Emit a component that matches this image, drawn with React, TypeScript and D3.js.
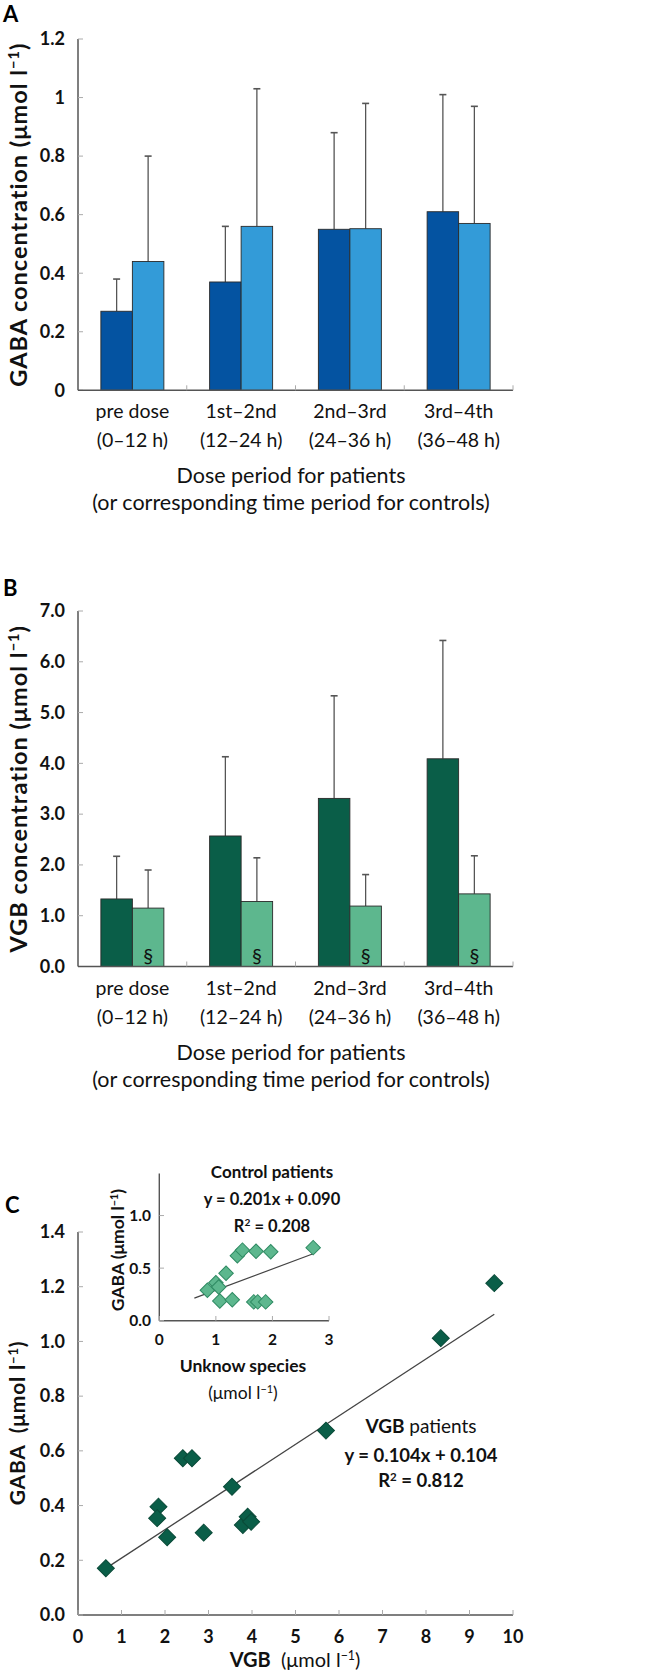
import React from "react";
import * as d3 from "d3";

const categories = ["pre dose", "1st–2nd", "2nd–3rd", "3rd–4th"];
const categoryHours = ["(0–12 h)", "(12–24 h)", "(24–36 h)", "(36–48 h)"];

const gabaPatients = [0.27, 0.37, 0.55, 0.61];
const gabaPatientsSD = [0.11, 0.19, 0.33, 0.40];
const gabaControls = [0.44, 0.56, 0.552, 0.57];
const gabaControlsSD = [0.36, 0.47, 0.428, 0.40];

const vgbPatients = [1.33, 2.57, 3.31, 4.09];
const vgbPatientsSD = [0.84, 1.56, 2.02, 2.33];
const vgbControls = [1.15, 1.28, 1.19, 1.43];
const vgbControlsSD = [0.75, 0.86, 0.62, 0.75];

const gabaTicksA = [0, 0.2, 0.4, 0.6, 0.8, 1, 1.2];
const vgbTicksB = [0, 1, 2, 3, 4, 5, 6, 7];

const vgbX = [0.64, 1.85, 1.82, 2.05, 2.41, 2.62, 2.89, 3.54, 3.79, 3.9, 3.98, 5.7, 8.34, 9.57];
const gabaY = [0.171, 0.396, 0.354, 0.284, 0.573, 0.573, 0.301, 0.469, 0.329, 0.359, 0.341, 0.674, 1.012, 1.213];

const unkX = [0.85, 1.0, 1.05, 1.07, 1.18, 1.29, 1.38, 1.47, 1.71, 1.67, 1.74, 1.88, 1.97, 2.72];
const unkY = [0.289, 0.361, 0.32, 0.188, 0.451, 0.2, 0.617, 0.671, 0.661, 0.179, 0.179, 0.179, 0.655, 0.695];

const mainTicksX = [0, 1, 2, 3, 4, 5, 6, 7, 8, 9, 10];
const mainTicksY = [0, 0.2, 0.4, 0.6, 0.8, 1.0, 1.2, 1.4];
const insetTicksX = [0, 1, 2, 3];
const insetTicksY = [0, 0.5, 1.0];

const FONT = "Lato, 'Open Sans', sans-serif";
const AXIS = "#555";
const TICK = "#aaa";

const DARK_BLUE = "#0453a1";
const LIGHT_BLUE = "#339bd8";
const DARK_GREEN = "#0a5e48";
const LIGHT_GREEN = "#5db78e";

function Unit({ pre }: { pre: string }) {
  return (
    <>
      {pre}(μmol l
      <tspan fontSize="0.62em" dy="-0.55em">−1</tspan>
      <tspan dy="0.34em">)</tspan>
    </>
  );
}

function BarPanel(props: {
  top: number;
  letter: string;
  yMax: number;
  ticks: number[];
  fmt: (v: number) => string;
  a: number[];
  aSD: number[];
  b: number[];
  bSD: number[];
  ca: string;
  cb: string;
  title: string;
  section?: boolean;
  y0: number;
  y1: number;
}) {
  const { a, aSD, b, bSD, ca, cb, y0, y1 } = props;
  const x = d3.scaleBand<string>().domain(categories).range([78, 513]).paddingInner(0).paddingOuter(0);
  const y = d3.scaleLinear().domain([0, props.yMax]).range([y0, y1]);
  const bw = 31.5;
  const cap = 3.5;
  const bars: JSX.Element[] = [];
  categories.forEach((c, i) => {
    const cx = (x(c) as number) + x.bandwidth() / 2;
    const series = [
      { v: a[i], sd: aSD[i], col: ca, x0: cx - bw },
      { v: b[i], sd: bSD[i], col: cb, x0: cx },
    ];
    series.forEach((s, j) => {
      const mid = s.x0 + bw / 2;
      bars.push(
        <g key={`${i}-${j}`}>
          <line x1={mid} x2={mid} y1={y(s.v)} y2={y(s.v + s.sd)} stroke="#555" strokeWidth={1.3} />
          <line x1={mid - cap} x2={mid + cap} y1={y(s.v + s.sd)} y2={y(s.v + s.sd)} stroke="#555" strokeWidth={1.6} />
          <rect x={s.x0} y={y(s.v)} width={bw} height={y0 - y(s.v)} fill={s.col} stroke="#2a2a2a" strokeWidth={0.9} />
          {props.section && j === 1 ? (
            <text x={mid} y={y0 - 4} textAnchor="middle" fontSize={20} fontFamily={FONT} fill="#111">§</text>
          ) : null}
        </g>
      );
    });
  });
  return (
    <g>
      <text x={3} y={props.top} fontSize={22} fontWeight="bold" fontFamily={FONT}>{props.letter}</text>
      <line x1={78} x2={78} y1={y0} y2={y1} stroke={AXIS} strokeWidth={1.5} />
      {props.ticks.map((t) => (
        <g key={t}>
          <line x1={78} x2={83} y1={y(t)} y2={y(t)} stroke={TICK} strokeWidth={1} />
          <text x={65} y={y(t) + 6.3} textAnchor="end" fontSize={18} fontWeight="bold" fontFamily={FONT} fill="#111">
            {props.fmt(t)}
          </text>
        </g>
      ))}
      {bars}
      <line x1={78} x2={513} y1={y0} y2={y0} stroke={AXIS} strokeWidth={1.5} />
      {categories.map((c, i) => (
        <g key={c}>
          <line x1={(x(c) as number) + x.bandwidth()} x2={(x(c) as number) + x.bandwidth()} y1={y0} y2={y0 - 5} stroke={TICK} strokeWidth={1} />
          <text x={(x(c) as number) + x.bandwidth() / 2} y={y0 + 28} textAnchor="middle" fontSize={19.5} fontFamily={FONT} fill="#111">{c}</text>
          <text x={(x(c) as number) + x.bandwidth() / 2} y={y0 + 57} textAnchor="middle" fontSize={19.5} fontFamily={FONT} fill="#111">{categoryHours[i]}</text>
        </g>
      ))}
      <text x={291} y={y0 + 93} textAnchor="middle" fontSize={21.5} fontFamily={FONT} fill="#111">Dose period for patients</text>
      <text x={291} y={y0 + 120} textAnchor="middle" fontSize={21.5} fontFamily={FONT} fill="#111">(or corresponding time period for controls)</text>
      <text transform={`translate(27,${(y0 + y1) / 2}) rotate(-90)`} textAnchor="middle" fontSize={23.5} letterSpacing={1} fontWeight="bold" fontFamily={FONT} fill="#111">
        <Unit pre={props.title} />
      </text>
    </g>
  );
}

function Diamond({ cx, cy, d, fill, stroke }: { cx: number; cy: number; d: number; fill: string; stroke: string }) {
  const s = d / Math.SQRT2;
  const path = d3.symbol().type(d3.symbolSquare).size(s * s)() as string;
  return <path d={path} transform={`translate(${cx},${cy}) rotate(45)`} fill={fill} stroke={stroke} strokeWidth={1} />;
}

function ScatterPanel() {
  const x = d3.scaleLinear().domain([0, 10]).range([78, 513]);
  const y = d3.scaleLinear().domain([0, 1.4]).range([1615, 1232]);
  const xi = d3.scaleLinear().domain([0, 3]).range([159.3, 329]);
  const yi = d3.scaleLinear().domain([0, 1.4]).range([1320.7, 1173.5]);
  const fitMain = (v: number) => 0.104 * v + 0.104;
  const fitInset = (v: number) => 0.201 * v + 0.09;
  const mainLine = d3.line<number>().x((v) => x(v)).y((v) => y(fitMain(v)));
  const insetLine = d3.line<number>().x((v) => xi(v)).y((v) => yi(fitInset(v)));
  return (
    <g>
      <text x={5} y={1213} fontSize={22} fontWeight="bold" fontFamily={FONT}>C</text>
      <line x1={78} x2={78} y1={1615} y2={1232} stroke={AXIS} strokeWidth={1.5} />
      <line x1={78} x2={513} y1={1615} y2={1615} stroke={AXIS} strokeWidth={1.5} />
      {mainTicksY.map((t) => (
        <g key={t}>
          <line x1={78} x2={83} y1={y(t)} y2={y(t)} stroke={TICK} />
          <text x={65} y={y(t) + 6.3} textAnchor="end" fontSize={18} fontWeight="bold" fontFamily={FONT} fill="#111">{t.toFixed(1)}</text>
        </g>
      ))}
      {mainTicksX.map((t) => (
        <g key={t}>
          <line x1={x(t)} x2={x(t)} y1={1615} y2={1610} stroke={TICK} />
          <text x={x(t)} y={1643} textAnchor="middle" fontSize={18} fontWeight="bold" fontFamily={FONT} fill="#111">{t}</text>
        </g>
      ))}
      <text x={295} y={1667} textAnchor="middle" fontSize={20} fontFamily={FONT} fill="#111">
        <tspan fontWeight="bold">VGB</tspan>
        <tspan>{"\u00a0\u00a0(μmol l"}</tspan>
        <tspan fontSize="0.62em" dy="-0.55em">−1</tspan>
        <tspan dy="0.34em">)</tspan>
      </text>
      <text transform={`translate(25,1423) rotate(-90)`} textAnchor="middle" fontSize={21} letterSpacing={0.8} fontWeight="bold" fontFamily={FONT} fill="#111">
        <Unit pre={"GABA\u00a0\u00a0"} />
      </text>
      <path d={mainLine([0.64, 9.57]) as string} stroke="#444" strokeWidth={1.3} fill="none" />
      {vgbX.map((v, i) => (
        <Diamond key={i} cx={x(v)} cy={y(gabaY[i])} d={17} fill={DARK_GREEN} stroke="#0a4a38" />
      ))}
      <text x={421} y={1433} textAnchor="middle" fontSize={19} fontFamily={FONT} fill="#111">
        <tspan fontWeight="bold">VGB</tspan> patients
      </text>
      <text x={421} y={1462} textAnchor="middle" fontSize={18.5} fontWeight="bold" fontFamily={FONT} fill="#111">y = 0.104x + 0.104</text>
      <text x={421} y={1487} textAnchor="middle" fontSize={18.5} fontWeight="bold" fontFamily={FONT} fill="#111">
        R<tspan fontSize="0.62em" dy="-0.55em">2</tspan><tspan dy="0.34em"> = 0.812</tspan>
      </text>

      {/* inset */}
      <line x1={159.3} x2={159.3} y1={1320.7} y2={1173.5} stroke={AXIS} strokeWidth={1.4} />
      <line x1={159.3} x2={329} y1={1320.7} y2={1320.7} stroke={AXIS} strokeWidth={1.4} />
      {insetTicksY.map((t) => (
        <g key={t}>
          <line x1={159.3} x2={164} y1={yi(t)} y2={yi(t)} stroke={TICK} />
          <text x={151} y={yi(t) + 5.5} textAnchor="end" fontSize={15.5} fontWeight="bold" fontFamily={FONT} fill="#111">{t.toFixed(1)}</text>
        </g>
      ))}
      {insetTicksX.map((t) => (
        <g key={t}>
          <line x1={xi(t)} x2={xi(t)} y1={1320.7} y2={1316} stroke={TICK} />
          <text x={xi(t)} y={1345} textAnchor="middle" fontSize={15.5} fontWeight="bold" fontFamily={FONT} fill="#111">{t}</text>
        </g>
      ))}
      <text x={243} y={1372} textAnchor="middle" fontSize={17.5} fontWeight="bold" fontFamily={FONT} fill="#111">Unknow species</text>
      <text x={243} y={1399} textAnchor="middle" fontSize={17.5} fontFamily={FONT} fill="#111">
        <Unit pre="" />
      </text>
      <text transform={`translate(124,1250) rotate(-90)`} textAnchor="middle" fontSize={17.5} fontWeight="bold" fontFamily={FONT} fill="#111">
        <Unit pre={"GABA "} />
      </text>
      <path d={insetLine([0.62, 2.72]) as string} stroke="#444" strokeWidth={1.2} fill="none" />
      {unkX.map((v, i) => (
        <Diamond key={i} cx={xi(v)} cy={yi(unkY[i])} d={14.5} fill={LIGHT_GREEN} stroke="#2e8a62" />
      ))}
      <text x={272} y={1178} textAnchor="middle" fontSize={17} fontWeight="bold" fontFamily={FONT} fill="#111">Control patients</text>
      <text x={272} y={1205} textAnchor="middle" fontSize={16.5} fontWeight="bold" fontFamily={FONT} fill="#111">y = 0.201x + 0.090</text>
      <text x={272} y={1232} textAnchor="middle" fontSize={16.5} fontWeight="bold" fontFamily={FONT} fill="#111">
        R<tspan fontSize="0.62em" dy="-0.55em">2</tspan><tspan dy="0.34em"> = 0.208</tspan>
      </text>
    </g>
  );
}

export default function App() {
  return (
    <svg width={666} height={1678} style={{ position: "absolute", left: 0, top: 0, background: "#fff" }}>
      <rect width={666} height={1678} fill="#fff" />
      <BarPanel
        top={22}
        letter="A"
        yMax={1.2}
        ticks={gabaTicksA}
        fmt={(v) => (v === 0 || v === 1 ? String(v) : v.toFixed(1))}
        a={gabaPatients}
        aSD={gabaPatientsSD}
        b={gabaControls}
        bSD={gabaControlsSD}
        ca={DARK_BLUE}
        cb={LIGHT_BLUE}
        title="GABA concentration "
        y0={390.3}
        y1={39}
      />
      <BarPanel
        top={596}
        letter="B"
        yMax={7}
        ticks={vgbTicksB}
        fmt={(v) => v.toFixed(1)}
        a={vgbPatients}
        aSD={vgbPatientsSD}
        b={vgbControls}
        bSD={vgbControlsSD}
        ca={DARK_GREEN}
        cb={LIGHT_GREEN}
        title="VGB concentration "
        section
        y0={966.5}
        y1={611}
      />
      <ScatterPanel />
    </svg>
  );
}
